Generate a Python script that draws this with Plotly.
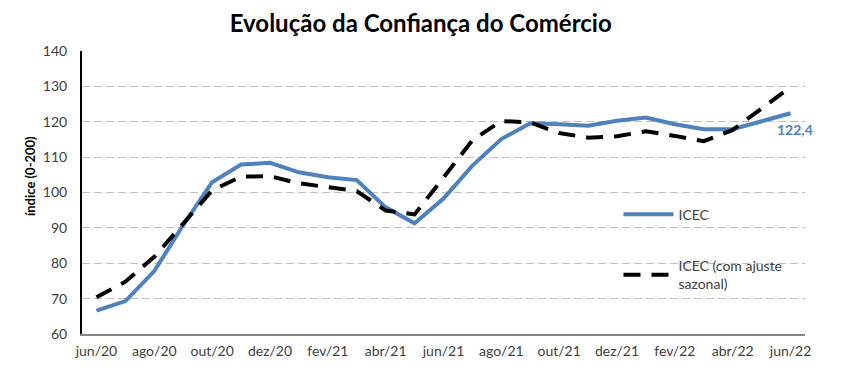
import plotly.graph_objects as go

months = ["jun/20","jul/20","ago/20","set/20","out/20","nov/20","dez/20","jan/21","fev/21","mar/21",
          "abr/21","mai/21","jun/21","jul/21","ago/21","set/21","out/21","nov/21","dez/21","jan/22",
          "fev/22","mar/22","abr/22","mai/22","jun/22"]
icec = [66.6, 69.3, 77.8, 90.8, 102.9, 107.9, 108.4, 105.7, 104.3, 103.5,
        95.8, 91.3, 98.3, 107.6, 115.1, 119.6, 119.3, 118.9, 120.3, 121.2,
        119.3, 117.9, 117.9, 120.1, 122.4]
icec_saz = [70.4, 74.8, 81.8, 91.2, 100.6, 104.5, 104.6, 102.6, 101.4, 100.4,
            94.9, 93.8, 104.2, 114.8, 120.2, 119.8, 116.8, 115.5, 115.9, 117.3,
            116.0, 114.5, 117.7, 123.8, 129.8]
tick_labels = months[::2]
last_label = "122,4"

font_family = "Lato, 'Open Sans', sans-serif"

fig = go.Figure()
fig.add_trace(go.Scatter(x=months, y=icec, mode="lines", name="ICEC", legendgroup="a",
                         line=dict(color="#4F81BD", width=4)))
fig.add_trace(go.Scatter(x=months, y=icec_saz, mode="lines", name="ICEC (com ajuste<br>sazonal)",
                         legendgroup="b",
                         line=dict(color="black", width=4, dash="17px,11px")))

fig.add_annotation(x=months[-1], y=icec[-1], text=f"<b>{last_label}</b>", showarrow=False,
                   xshift=4, yshift=-16, font=dict(color="#4F81BD", size=14, family=font_family))
fig.add_annotation(xref="paper", yref="paper", x=-0.072, y=0.558, xanchor="center", yanchor="middle",
                   text="<b>índice (0-200)</b>",
                   textangle=-90, showarrow=False, font=dict(size=13, color="black", family=font_family))

fig.update_layout(
    width=844, height=363,
    margin=dict(l=74, r=47, t=43, b=35),
    paper_bgcolor="white", plot_bgcolor="white",
    title=dict(text="<b>Evolução da Confiança do Comércio</b>", x=0.489, xanchor="center",
               y=0.957, yanchor="middle", font=dict(size=24, color="black", family=font_family)),
    font=dict(family=font_family, size=14, color="#404040"),
    showlegend=True,
    legend=dict(x=0.742, y=0.478, xanchor="left", yanchor="top", bgcolor="rgba(0,0,0,0)",
                font=dict(size=14, color="#404040"), tracegroupgap=30, itemwidth=50),
)
fig.update_xaxes(type="category", categoryorder="array", categoryarray=months,
                 range=[-0.5, 24.5], tickmode="array", tickvals=tick_labels, ticktext=tick_labels,
                 showgrid=False, showline=True, linecolor="#868686", linewidth=1.5,
                 ticks="", ticklabelstandoff=3, tickfont=dict(size=14, color="#404040"))
fig.update_yaxes(range=[60, 140], dtick=10, showgrid=True, gridcolor="#BFBFBF", griddash="8px,4px",
                 gridwidth=1.3, showline=True, linecolor="black", linewidth=2, ticks="",
                 ticklabelstandoff=10, zeroline=False, tickfont=dict(size=14, color="#404040"))

fig.write_html("out.html")
